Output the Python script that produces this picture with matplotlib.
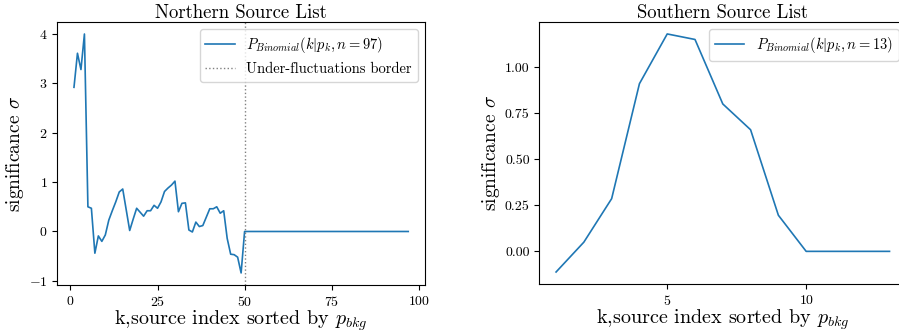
import matplotlib
matplotlib.use("Agg")
import matplotlib.pyplot as plt
import numpy as np

plt.rcParams['font.family'] = 'serif'
plt.rcParams['font.serif'] = ['cmr10']
plt.rcParams['mathtext.fontset'] = 'cm'
plt.rcParams['axes.formatter.use_mathtext'] = True
plt.rcParams['axes.unicode_minus'] = True

# significance per source index, northern list (n = 97)
north_sig = [2.92, 3.61, 3.28, 4.00, 0.50, 0.47, -0.44, -0.09, -0.20, -0.07,
             0.23, 0.42, 0.60, 0.80, 0.86, 0.44, 0.02, 0.25, 0.47, 0.39,
             0.31, 0.42, 0.42, 0.53, 0.47, 0.60, 0.81, 0.88, 0.94, 1.02,
             0.40, 0.57, 0.58, 0.03, -0.01, 0.19, 0.10, 0.12, 0.29, 0.46,
             0.46, 0.50, 0.37, 0.42, -0.14, -0.46, -0.47, -0.52, -0.84] + [0.0] * 48
north_k = np.arange(1, len(north_sig) + 1)
border_k = 50

# southern list (n = 13)
south_sig = [-0.112, 0.05, 0.286, 0.91, 1.18, 1.15, 0.80, 0.66, 0.196, 0.0, 0.0, 0.0, 0.0]
south_k = np.arange(1, len(south_sig) + 1)

fig = plt.figure(figsize=(8.99, 3.34), dpi=100)
ax1 = fig.add_axes([0.0637, 0.147, 0.409, 0.787])
ax2 = fig.add_axes([0.600, 0.150, 0.408, 0.784])

ax1.plot(north_k, north_sig, lw=1.2, label=r'$P_{Binomial}(k|p_k, n=97)$')
ax1.axvline(border_k, color='grey', ls=':', lw=1.0, label='Under-fluctuations border')
ax1.set_title('Northern Source List', fontsize=13.5, pad=3)
ax1.set_xlabel(r'k,source index sorted by $p_{bkg}$', fontsize=14.5, labelpad=0)
ax1.set_ylabel(r'significance $\sigma$', fontsize=14, labelpad=2)
ax1.set_xticks([0, 25, 50, 75, 100])
ax1.set_yticks([-1, 0, 1, 2, 3, 4])
ax1.legend(loc='upper right', fontsize=10.5)

ax2.plot(south_k, south_sig, lw=1.2, label=r'$P_{Binomial}(k|p_k, n=13)$')
ax2.set_title('Southern Source List', fontsize=13.5, pad=3)
ax2.set_xlabel(r'k,source index sorted by $p_{bkg}$', fontsize=14.5, labelpad=0)
ax2.set_ylabel(r'significance $\sigma$', fontsize=14, labelpad=2)
ax2.set_xticks([5, 10])
ax2.set_yticks([0.0, 0.25, 0.5, 0.75, 1.0])
ax2.yaxis.set_major_formatter(matplotlib.ticker.FormatStrFormatter('%.2f'))
ax2.legend(loc='upper right', fontsize=10.5)

for ax in (ax1, ax2):
    ax.tick_params(labelsize=10)

fig.savefig('out.png', dpi=100)
